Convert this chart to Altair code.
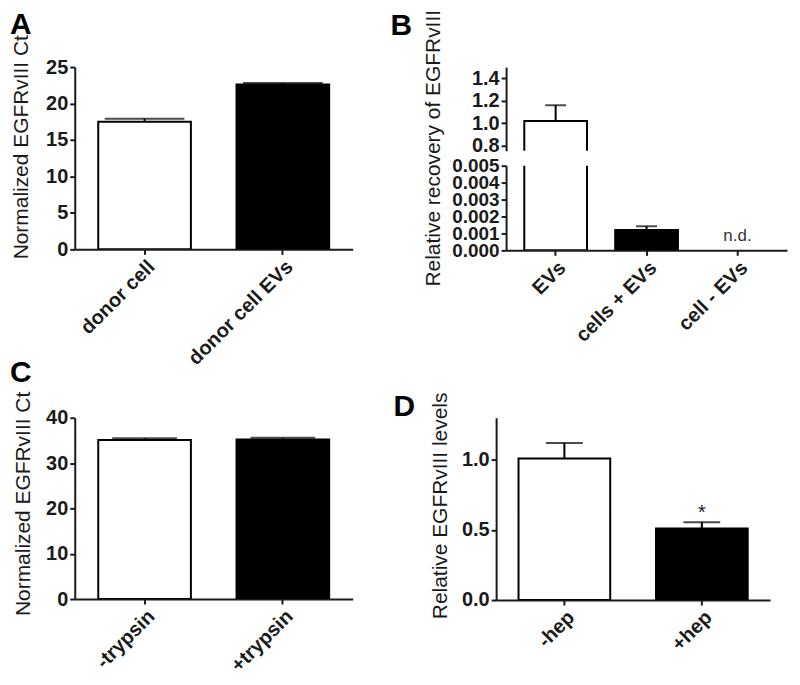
import altair as alt
import pandas as pd

# ---------------- data ----------------
a_cats = ["donor cell", "donor cell EVs"]
a_vals = [17.5, 22.6]
a_errs = [0.4, 0.2]

b_cats = ["EVs", "cells + EVs", "cell - EVs"]
b_vals = [1.02, 0.0012, None]      # third group: not detected
b_errs = [0.14, 0.00023, None]
b_nd_cats = ["cell - EVs"]
b_nd_text = ["n.d."]

c_cats = ["-trypsin", "+trypsin"]
c_vals = [35.1, 35.2]
c_errs = [0.35, 0.4]

d_cats = ["-hep", "+hep"]
d_vals = [1.01, 0.51]
d_errs = [0.11, 0.045]
d_sig_cats = ["+hep"]
d_sig_text = ["*"]

FONT = "Liberation Sans"
INK = "#1a1a1a"
FILLS = ["white", "black", "white"]


def frame(cats, vals, errs):
    return pd.DataFrame({"cat": cats, "val": vals, "err": errs})


def panel_title(letter, dx, dy):
    return alt.TitleParams(letter, anchor="start", frame="group", font=FONT,
                           fontSize=30, fontWeight="bold", color="black",
                           dx=dx, dy=dy, offset=0)


def yaxis(title, values, fmt, title_y, title_pad=12, title_size=21, label_size=20):
    kw = dict(values=values, format=fmt, titlePadding=title_pad, labelOverlap=False,
              titleFontSize=title_size, labelFontSize=label_size)
    if title is not None:
        kw["title"] = title
        kw["titleY"] = title_y
    else:
        kw["title"] = None
    return alt.Axis(**kw)


def xaxis(show=True):
    if not show:
        return None
    return alt.Axis(title=None, labelAngle=-45, labelFontSize=20)


def bars_panel(df, cats, ydom, yax, show_x, width, height, cap, padi, pado,
               extra=None):
    ys = alt.Scale(domain=ydom, nice=False, zero=False)
    xs = alt.Scale(domain=cats, paddingInner=padi, paddingOuter=pado)
    x = alt.X("cat:N", sort=cats, scale=xs, axis=xaxis(show_x))
    base = (alt.Chart(df)
            .transform_filter("isValid(datum.val)")
            .transform_calculate(hi="datum.val + datum.err"))
    bars = base.mark_bar(stroke="black", strokeWidth=2, clip=True).encode(
        x=x,
        y=alt.Y("val:Q", scale=ys, axis=yax),
        fill=alt.Fill("cat:N", scale=alt.Scale(domain=cats, range=FILLS[:len(cats)]),
                      legend=None),
    )
    rule = base.mark_rule(color="black", strokeWidth=2, clip=True).encode(
        x=x,
        y=alt.Y("val:Q", scale=ys, axis=yax),
        y2="hi:Q",
    )
    capm = base.mark_tick(color="black", thickness=2, size=cap, clip=True).encode(
        x=x,
        y=alt.Y("hi:Q", scale=ys, axis=yax),
    )
    layers = [bars, rule, capm]
    if extra is not None:
        for e in extra:
            layers.append(e(x, ys, yax))
    return alt.layer(*layers).properties(width=width, height=height)


# ---------------- panel A ----------------
A = bars_panel(frame(a_cats, a_vals, a_errs), a_cats, [0, 25],
               yaxis("Normalized EGFRvIII Ct", [0, 5, 10, 15, 20, 25], "d", 80, 14),
               True, 279, 183, 80, 0.33, 0.17).properties(
    title=panel_title("A", -65, 5))

# ---------------- panel B (broken axis) ----------------
bdf = frame(b_cats, b_vals, b_errs)
B_up = bars_panel(bdf, b_cats, [0.755, 1.5],
                  yaxis(None, [0.8, 1.0, 1.2, 1.4], ".1f", None),
                  False, 282, 84, 21, 0.31, 0.2).properties(
    title=panel_title("B", -116, -26))


def nd_layer(x, ys, yax):
    nd = pd.DataFrame({"cat": b_nd_cats, "txt": b_nd_text, "val": [0.0] * len(b_nd_cats)})
    return alt.Chart(nd).mark_text(font=FONT, fontSize=17, color="#333", dy=-14).encode(
        x=x, y=alt.Y("val:Q", scale=ys, axis=yax), text="txt:N")


B_low = bars_panel(bdf, b_cats, [0, 0.005],
                   yaxis("Relative recovery of EGFRvIII",
                         [0, 0.001, 0.002, 0.003, 0.004, 0.005], ".3f", -18, 8,
                         label_size=19),
                   True, 282, 85, 21, 0.31, 0.2, extra=[nd_layer])
B = alt.vconcat(B_up, B_low, spacing=15, bounds="flush").resolve_scale(fill="independent")

# ---------------- panel C ----------------
C = bars_panel(frame(c_cats, c_vals, c_errs), c_cats, [0, 40],
               yaxis("Normalized EGFRvIII Ct", [0, 10, 20, 30, 40], "d", 86, 12),
               True, 279, 182, 65, 0.33, 0.17).properties(
    title=panel_title("C", -65, -3))


# ---------------- panel D ----------------
def sig_layer(x, ys, yax):
    dd = pd.DataFrame({"cat": d_cats, "val": d_vals, "err": d_errs})
    dd = dd[dd["cat"].isin(d_sig_cats)].copy()
    dd["txt"] = d_sig_text
    return (alt.Chart(dd).transform_calculate(hi="datum.val + datum.err")
            .mark_text(font=FONT, fontSize=20, color=INK, dy=-9)
            .encode(x=x, y=alt.Y("hi:Q", scale=ys, axis=yax), text="txt:N"))


D = bars_panel(frame(d_cats, d_vals, d_errs), d_cats, [0, 1.3],
               yaxis("Relative EGFRvIII levels", [0, 0.5, 1.0], ".1f", 88, 11),
               True, 275, 183, 37, 0.333, 0.163, extra=[sig_layer]).properties(
    title=panel_title("D", -103, 30))

row1 = alt.hconcat(A, B, spacing=38).resolve_scale(fill="independent")
row2 = alt.hconcat(C, D, spacing=41).resolve_scale(fill="independent")

chart = alt.vconcat(row1, row2, spacing=-11).resolve_scale(fill="independent").properties(
    padding={"left": 2, "top": 0, "right": 5, "bottom": 5}
).configure_view(stroke=None).configure_axis(
    domainColor=INK, domainWidth=2, tickColor=INK, tickWidth=2, tickSize=5,
    labelFont=FONT, labelFontWeight="bold", labelColor=INK,
    labelPadding=2, titleFont=FONT, titleFontWeight="normal",
    titleColor=INK, grid=False,
).configure_title(font=FONT)

chart.save("out.html", embed_options={"renderer": "svg", "actions": False})
